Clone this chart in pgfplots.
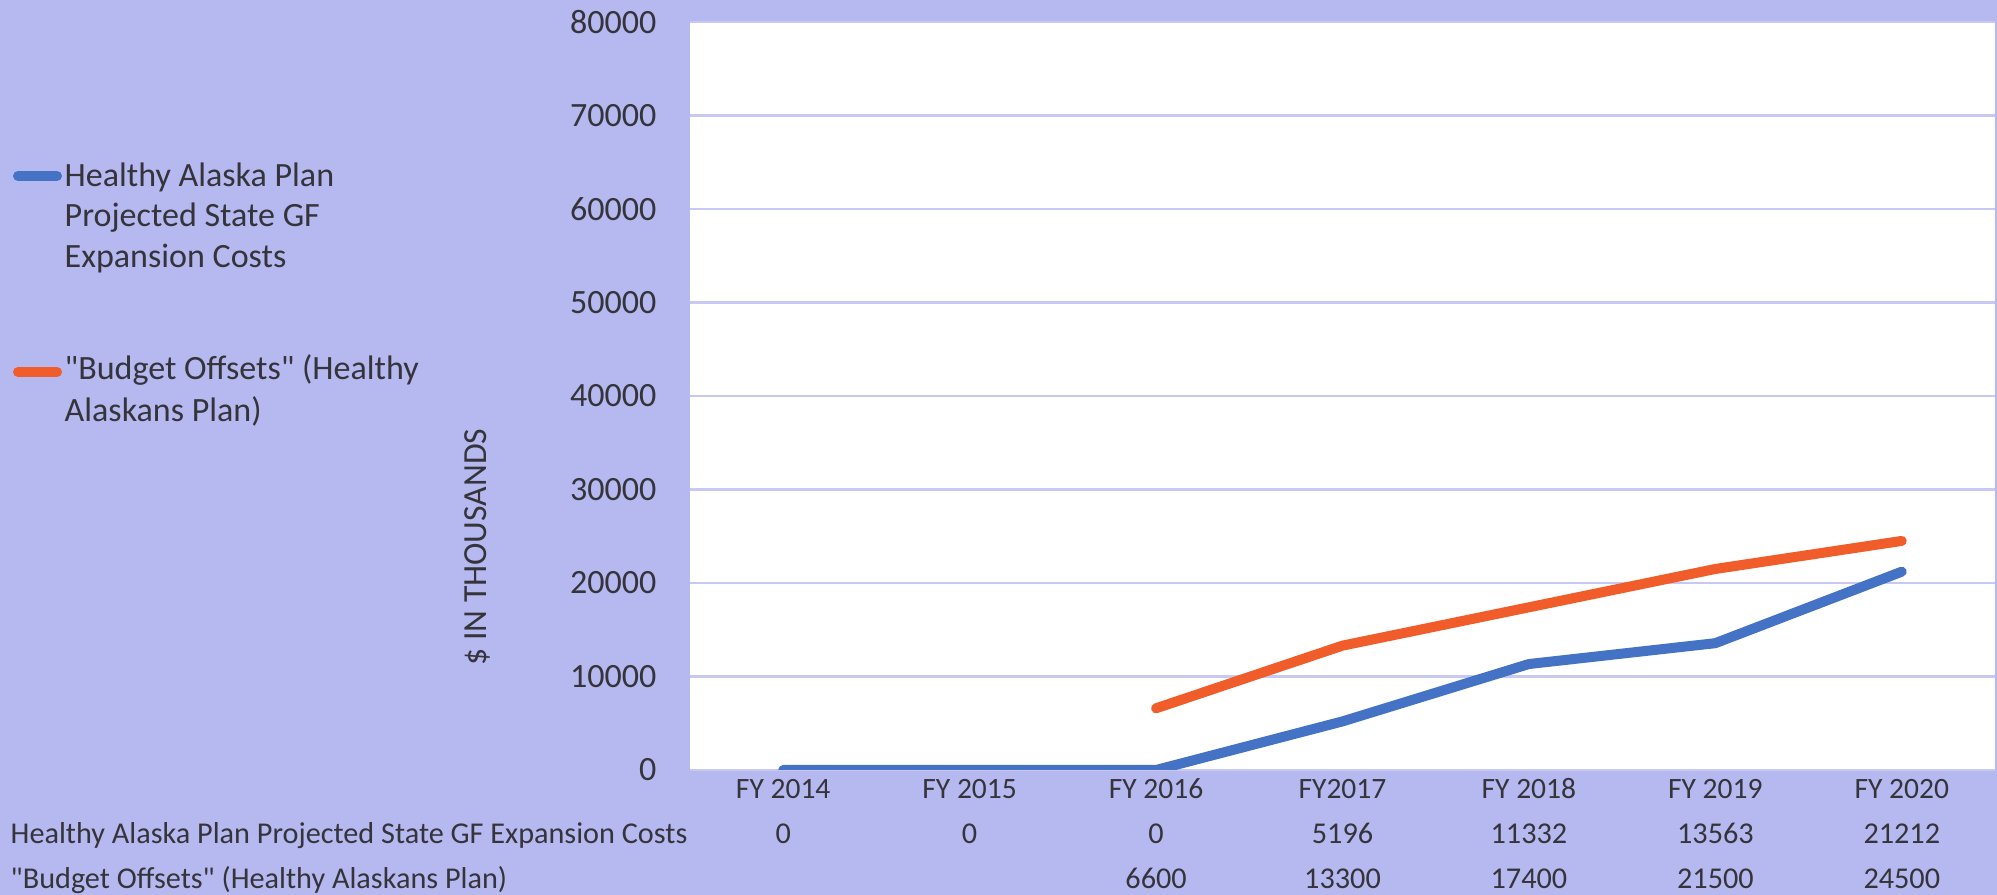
\documentclass[border=0pt]{standalone}
\usepackage{pgfplots}
\pgfplotsset{compat=1.18}
\usepackage{fontspec}
\setmainfont{Carlito}
\definecolor{bg}{RGB}{182,184,240}
\definecolor{gridc}{RGB}{200,200,244}
\definecolor{sblue}{RGB}{68,114,196}
\definecolor{sorange}{RGB}{240,92,42}
\definecolor{txt}{RGB}{52,52,58}
\newcommand{\fsmall}{\fontsize{8.4pt}{10pt}\selectfont}
\newcommand{\frow}{\fontsize{8.6pt}{10pt}\selectfont}
\newcommand{\flab}{\fontsize{9.6pt}{11pt}\selectfont}
\newcommand{\fbig}{\fontsize{9.68pt}{11.4pt}\selectfont}
\begin{document}
\begin{tikzpicture}
\fill[bg] (0,0) rectangle (199.7mm,89.5mm);
\begin{axis}[
  at={(69mm,12.5mm)}, anchor=south west,
  scale only axis, width=130.5mm, height=74.8mm,
  xmin=-0.5, xmax=6.5, ymin=0, ymax=80000,
  xtick={0,1,2,3,4,5,6},
  xticklabels={FY 2014,FY 2015,FY 2016,FY2017,FY 2018,FY 2019,FY 2020},
  ytick={0,10000,20000,30000,40000,50000,60000,70000,80000},
  scaled y ticks=false,
  /pgf/number format/1000 sep={},
  /pgf/number format/assume math mode=true,
  axis line style={draw=none},
  major tick length=0pt,
  ymajorgrids, grid style={gridc, line width=0.22mm},
  axis background/.style={fill=white},
  xticklabel style={font=\fsmall, text=txt, anchor=base, inner sep=0pt, yshift=-2.9mm},
  yticklabel style={font=\fbig, text=txt, anchor=east, inner sep=0pt, xshift=-3.3mm},
]
\addplot[sblue, line width=1mm, line join=round, line cap=round] coordinates {
  (0,0) (1,0) (2,0) (3,5196) (4,11332) (5,13563) (6,21212)};
\addplot[sorange, line width=1mm, line join=round, line cap=round] coordinates {
  (2,6600) (3,13300) (4,17400) (5,21500) (6,24500)};
\end{axis}
% y label
\node[rotate=90, font=\flab, text=txt, inner sep=0pt] at (47.7mm,34.8mm) {\$ IN THOUSANDS};
% legend
\draw[sblue, line width=1mm, line cap=round] (1.8mm,71.9mm) -- (5.7mm,71.9mm);
\draw[sorange, line width=1mm, line cap=round] (1.8mm,52.3mm) -- (5.7mm,52.3mm);
\begin{scope}[every node/.style={font=\fbig, text=txt, inner sep=0pt, anchor=base west}]
\node at (6.4mm,70.8mm) {Healthy Alaska Plan};
\node at (6.4mm,66.8mm) {Projected State GF};
\node at (6.4mm,62.7mm) {Expansion Costs};
\node at (6.4mm,51.5mm) {\textquotedbl Budget Offsets\textquotedbl{} (Healthy};
\node at (6.4mm,47.3mm) {Alaskans Plan)};
\end{scope}
% data table
\begin{scope}[every node/.style={font=\frow, text=txt, inner sep=0pt, anchor=base}]
\node[anchor=base west] at (1.0mm,5.1mm) {Healthy Alaska Plan Projected State GF Expansion Costs};
\node[anchor=base west] at (1.0mm,0.6mm) {\textquotedbl Budget Offsets\textquotedbl{} (Healthy Alaskans Plan)};
\node at (78.32mm,5.1mm) {0};
\node at (96.96mm,5.1mm) {0};
\node at (115.61mm,5.1mm) {0};
\node at (134.25mm,5.1mm) {5196};
\node at (152.89mm,5.1mm) {11332};
\node at (171.54mm,5.1mm) {13563};
\node at (190.18mm,5.1mm) {21212};
\node at (115.61mm,0.6mm) {6600};
\node at (134.25mm,0.6mm) {13300};
\node at (152.89mm,0.6mm) {17400};
\node at (171.54mm,0.6mm) {21500};
\node at (190.18mm,0.6mm) {24500};
\end{scope}
\pgfresetboundingbox
\path[use as bounding box] (0,0) rectangle (199.7mm,89.5mm);
\end{tikzpicture}
\end{document}
